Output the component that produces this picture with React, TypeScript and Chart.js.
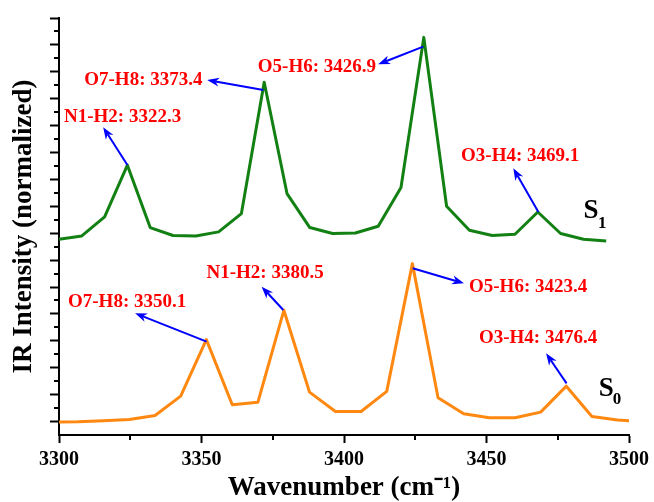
import React, { useEffect, useRef } from 'react';
import { Chart, registerables } from 'chart.js';

Chart.register(...registerables);

// ---- data ----
const s1Wavenumbers = [3300, 3308, 3316, 3324, 3332, 3340, 3348, 3356, 3364, 3372, 3380, 3388, 3396, 3404, 3412, 3420, 3428, 3436, 3444, 3452, 3460, 3468, 3476, 3484, 3492];
const s1Intensity = [14.55, 14.8, 16.21, 20.06, 15.42, 14.83, 14.8, 15.1, 16.46, 26.22, 17.95, 15.42, 14.98, 15.02, 15.52, 18.4, 29.56, 17.0, 15.22, 14.83, 14.92, 16.58, 14.98, 14.55, 14.43];

const s0Wavenumbers = [3297.5, 3306.6, 3315.6, 3324.7, 3333.7, 3342.7, 3351.7, 3360.8, 3369.8, 3378.9, 3387.9, 3397, 3406, 3415, 3424, 3433, 3442, 3451, 3460, 3469, 3478, 3487, 3496, 3505];
const s0Intensity = [0.95, 0.98, 1.06, 1.15, 1.45, 2.89, 7.09, 2.25, 2.44, 9.27, 3.19, 1.75, 1.75, 3.24, 12.74, 2.77, 1.58, 1.28, 1.28, 1.7, 3.63, 1.38, 1.12, 1.0];

const xMajorTicks = [3300, 3350, 3400, 3450, 3500];
const xMinorTicks = [3325, 3375, 3425, 3475];
const yMajorTicks = [1, 3, 5, 7, 9, 11, 13, 15, 17, 19, 21, 23, 25, 27, 29, 31];
const yMinorTicks = [2, 4, 6, 8, 10, 12, 14, 16, 18, 20, 22, 24, 26, 28, 30];

const xTitle = 'Wavenumber (cm\u207B\u00B9)';
const yTitle = 'IR Intensity (normalized)';

// peak annotations (data coordinates)
const peakLabels = [
  { text: 'N1-H2: 3322.3', tx: 3322.3, ty: 23.67, from: [3324, 20.07], to: [3315.5, 22.88] },
  { text: 'O7-H8: 3373.4', tx: 3329.6, ty: 26.39, from: [3371.7, 25.65], to: [3352, 26.39] },
  { text: 'O5-H6: 3426.9', tx: 3390.5, ty: 27.38, from: [3427.8, 28.87], to: [3412, 27.56] },
  { text: 'O3-H4: 3469.1', tx: 3461.8, ty: 20.74, from: [3468.2, 16.58], to: [3459.4, 19.83] },
  { text: 'O7-H8: 3350.1', tx: 3323.9, ty: 9.91, from: [3351.8, 6.94], to: [3326.7, 9.05] },
  { text: 'N1-H2: 3380.5', tx: 3372.3, ty: 12.02, from: [3378.7, 9.29], to: [3371.1, 11.03] },
  { text: 'O5-H6: 3423.4', tx: 3464.6, ty: 11.03, from: [3424.1, 12.39], to: [3442.1, 11.28] },
  { text: 'O3-H4: 3476.4', tx: 3468.1, ty: 7.19, from: [3478.1, 3.84], to: [3470.9, 6.07] },
];

const stateLabels = [
  { main: 'S', sub: '1', x: 3486.7, y: 16.65, sx: 3490.6, sy: 15.74 },
  { main: 'S', sub: '0', x: 3492, y: 3.45, sx: 3495.8, sy: 2.62 },
];

const SERIF = '"Liberation Serif", "Times New Roman", serif';

const annotationPlugin = {
  id: 'peakAnnotations',
  afterDatasetsDraw(chart: any) {
    const { ctx, scales } = chart;
    const xs = scales.x;
    const ys = scales.y;
    ctx.save();
    for (const a of peakLabels) {
      const x1 = xs.getPixelForValue(a.from[0]);
      const y1 = ys.getPixelForValue(a.from[1]);
      const x2 = xs.getPixelForValue(a.to[0]);
      const y2 = ys.getPixelForValue(a.to[1]);
      const ang = Math.atan2(y2 - y1, x2 - x1);
      const head = 12;
      const half = 4.5;
      const c = Math.cos(ang);
      const s = Math.sin(ang);
      ctx.strokeStyle = '#0000ff';
      ctx.fillStyle = '#0000ff';
      ctx.lineWidth = 2;
      ctx.beginPath();
      ctx.moveTo(x1, y1);
      ctx.lineTo(x2 - head * 0.7 * c, y2 - head * 0.7 * s);
      ctx.stroke();
      ctx.beginPath();
      ctx.moveTo(x2, y2);
      ctx.lineTo(x2 - head * c + half * s, y2 - head * s - half * c);
      ctx.lineTo(x2 - head * 0.7 * c, y2 - head * 0.7 * s);
      ctx.lineTo(x2 - head * c - half * s, y2 - head * s + half * c);
      ctx.closePath();
      ctx.fill();

      ctx.fillStyle = '#ff0000';
      ctx.font = `bold 19px ${SERIF}`;
      ctx.textAlign = 'center';
      ctx.textBaseline = 'middle';
      ctx.fillText(a.text, xs.getPixelForValue(a.tx), ys.getPixelForValue(a.ty));
    }
    for (const l of stateLabels) {
      ctx.fillStyle = '#000';
      ctx.textAlign = 'center';
      ctx.textBaseline = 'middle';
      ctx.font = `bold 27px ${SERIF}`;
      ctx.fillText(l.main, xs.getPixelForValue(l.x), ys.getPixelForValue(l.y));
      ctx.font = `bold 17px ${SERIF}`;
      ctx.fillText(l.sub, xs.getPixelForValue(l.sx), ys.getPixelForValue(l.sy));
    }
    ctx.restore();
  },
};

const minorTicksPlugin = {
  id: 'minorTicks',
  afterDraw(chart: any) {
    const { ctx, chartArea, scales } = chart;
    ctx.save();
    ctx.strokeStyle = '#000';
    ctx.lineWidth = 2;
    ctx.beginPath();
    for (const v of xMinorTicks) {
      const px = Math.round(scales.x.getPixelForValue(v));
      ctx.moveTo(px, chartArea.bottom);
      ctx.lineTo(px, chartArea.bottom + 5);
    }
    for (const v of yMinorTicks) {
      const py = Math.round(scales.y.getPixelForValue(v));
      ctx.moveTo(chartArea.left, py);
      ctx.lineTo(chartArea.left - 5, py);
    }
    ctx.stroke();
    ctx.restore();
  },
};

export default function App() {
  const canvasRef = useRef<HTMLCanvasElement | null>(null);

  useEffect(() => {
    if (!canvasRef.current) return;
    const chart = new Chart(canvasRef.current, {
      type: 'line',
      data: {
        datasets: [
          {
            label: 'S1',
            data: s1Wavenumbers.map((w, i) => ({ x: w, y: s1Intensity[i] })),
            borderColor: '#138013',
            borderWidth: 3,
            borderJoinStyle: 'round',
            pointRadius: 0,
            tension: 0,
            fill: false,
          },
          {
            label: 'S0',
            data: s0Wavenumbers.map((w, i) => ({ x: w, y: s0Intensity[i] })),
            borderColor: '#ff8811',
            borderWidth: 3,
            borderJoinStyle: 'round',
            pointRadius: 0,
            tension: 0,
            fill: false,
          },
        ],
      },
      options: {
        responsive: false,
        animation: false,
        layout: { padding: { top: 18, right: 25, left: 0, bottom: 0 } },
        plugins: { legend: { display: false }, tooltip: { enabled: false } },
        scales: {
          x: {
            type: 'linear',
            min: 3300,
            max: 3500,
            afterBuildTicks: (s: any) => {
              s.ticks = xMajorTicks.map((v) => ({ value: v }));
            },
            afterFit: (s: any) => {
              s.height = 67;
            },
            ticks: {
              callback: (v: any) => String(v),
              color: '#000',
              font: { family: SERIF, size: 20, weight: 'bold' },
              padding: 5,
              maxRotation: 0,
            },
            grid: {
              display: true,
              drawOnChartArea: false,
              drawTicks: true,
              tickLength: 8,
              tickWidth: 2,
              tickColor: '#000',
            },
            border: { display: true, color: '#000', width: 2 },
            title: {
              display: true,
              text: xTitle,
              color: '#000',
              font: { family: SERIF, size: 27, weight: 'bold', lineHeight: 1 },
              padding: { top: 0, bottom: 0 },
            },
          },
          y: {
            type: 'linear',
            min: 0,
            max: 31,
            afterBuildTicks: (s: any) => {
              s.ticks = yMajorTicks.map((v) => ({ value: v }));
            },
            afterFit: (s: any) => {
              s.width = 59;
            },
            ticks: { display: false },
            grid: {
              display: true,
              drawOnChartArea: false,
              drawTicks: true,
              tickLength: 9,
              tickWidth: 2,
              tickColor: '#000',
            },
            border: { display: true, color: '#000', width: 2 },
            title: {
              display: true,
              text: yTitle,
              color: '#000',
              font: { family: SERIF, size: 27, weight: 'bold', lineHeight: 1 },
              padding: { top: 10.5, bottom: 0 },
            },
          },
        },
      },
      plugins: [annotationPlugin, minorTicksPlugin],
    } as any);
    return () => chart.destroy();
  }, []);

  return (
    <div style={{ position: 'fixed', left: 0, top: 0, width: 654, height: 502, background: '#fff' }}>
      <canvas ref={canvasRef} width={654} height={502} style={{ display: 'block' }} />
    </div>
  );
}
